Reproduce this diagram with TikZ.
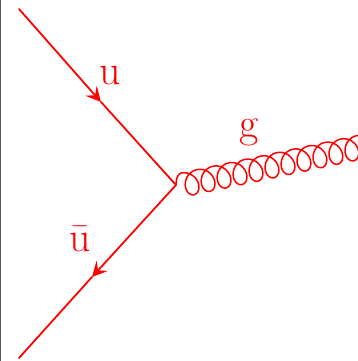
\documentclass[tikz,border=0pt]{standalone}
\usetikzlibrary{arrows.meta}
\definecolor{fr}{RGB}{255,0,0}
\tikzset{
  fermion/.style={draw=fr,line width=1.8bp,line cap=round},
  fermarrow/.style={fermion,-{Stealth[length=15bp,width=15bp,inset=6bp]}},
  gluonline/.style={draw=fr,line width=1.5bp,line join=round},
  lab/.style={text=fr,inner sep=0pt,font=\fontsize{42}{44}\selectfont}
}
\begin{document}
\begin{tikzpicture}[x=1bp,y=-1bp]
\useasboundingbox (0,0) rectangle (358,361);
\fill[white] (0,0) rectangle (358,361);
\fill[black!65] (0,0) rectangle (1.5,361);
\coordinate (ustart) at (19,9);
\coordinate (utip) at (101,102);
\coordinate (vertex) at (176,185);
\coordinate (bend) at (19,358);
\coordinate (btip) at (92,277);
\coordinate (gstart) at (181,173);
\draw[fermarrow] (ustart) -- (utip);
\draw[fermion] (utip) -- (vertex);
\draw[fermarrow] (vertex) -- (btip);
\draw[fermion] (btip) -- (bend);
\clip (0,0) rectangle (358,361);
\draw[gluonline] (vertex) .. controls (176,178) and (178,174) .. (gstart)
  -- plot[domain=180:4250,samples=400,variable=\t]
  ({181+(2.6*(\t-180)/180*3.14159-10.5*sin(\t))*0.978+(12+12*cos(\t))*0.208},
   {173-(2.6*(\t-180)/180*3.14159-10.5*sin(\t))*0.208+(12+12*cos(\t))*0.978});
\node[lab] (ulabel) at (110.5,75) {u};
\node[lab] (glabel) at (249,132) {g};
\node[lab] (ubarlabel) at (80.5,238.5) {\=u};
\end{tikzpicture}
\end{document}
